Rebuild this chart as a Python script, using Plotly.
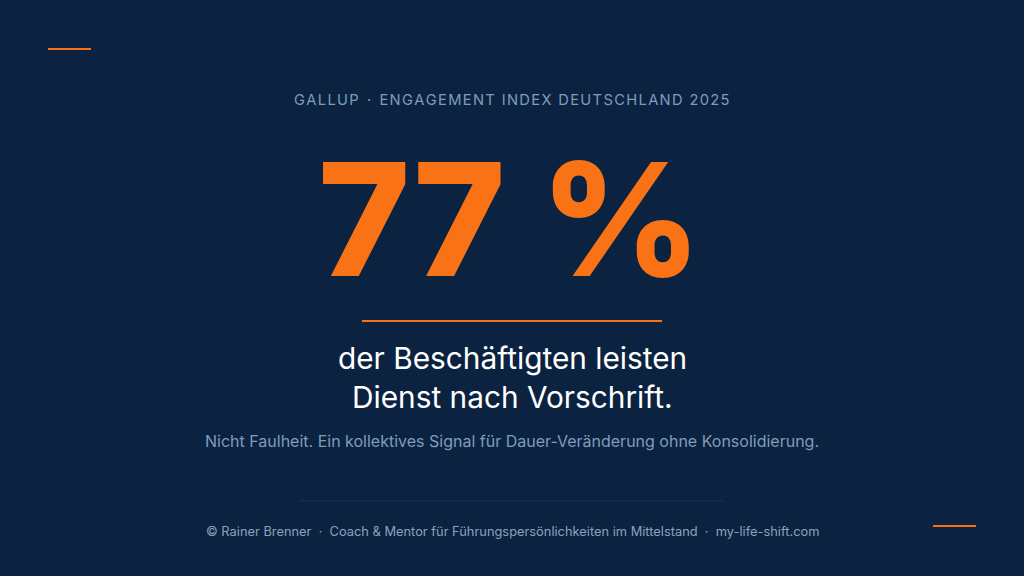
import plotly.graph_objects as go

# ---- content ----
source_parts = ["GALLUP", "ENGAGEMENT INDEX DEUTSCHLAND 2025"]
share_value = 77
share_unit = "%"
headline_lines = ["der Beschäftigten leisten", "Dienst nach Vorschrift."]
subline = "Nicht Faulheit. Ein kollektives Signal für Dauer-Veränderung ohne Konsolidierung."
footer_parts = ["© Rainer Brenner", "Coach & Mentor für Führungspersönlichkeiten im Mittelstand", "my-life-shift.com"]

BG = "#0b2340"
ORANGE = "#f97316"
MUTED = "#7f9cbf"
FONT = "Inter"

W, H = 1024, 576
fig = go.Figure()

fig.update_layout(
    width=W, height=H,
    margin=dict(l=0, r=0, t=0, b=0),
    paper_bgcolor=BG, plot_bgcolor=BG,
    showlegend=False,
    xaxis=dict(range=[0, W], visible=False, fixedrange=True),
    yaxis=dict(range=[H, 0], visible=False, fixedrange=True),
)

def txt(x, y, text, size, color, weight=400):
    fig.add_annotation(x=x, y=y, xref="x", yref="y", text=text, showarrow=False,
                       xanchor="center", yanchor="middle",
                       font=dict(family=FONT, size=size, color=color, weight=weight))

def spaced(s):
    return "\u200a".join(s)

header = "  ·  ".join(spaced(p) for p in source_parts)
txt(512, 100, header, 14.7, MUTED)
txt(510, 219, f"{share_value} {share_unit}", 157, ORANGE, 800)
txt(512, 358, headline_lines[0], 29.8, "#ffffff")
txt(512, 397, headline_lines[1], 29.8, "#ffffff")
txt(512, 441, subline, 16, MUTED)
txt(512, 531, "  ·  ".join(footer_parts), 12.85, "#8ba2bf")

# decorative lines
fig.add_shape(type="line", x0=48, x1=91, y0=49, y1=49, line=dict(color=ORANGE, width=2))
fig.add_shape(type="line", x0=933, x1=976, y0=526, y1=526, line=dict(color=ORANGE, width=2))
fig.add_shape(type="line", x0=362, x1=662, y0=321, y1=321, line=dict(color=ORANGE, width=2))
fig.add_shape(type="line", x0=300, x1=723, y0=501, y1=501, line=dict(color="#1c3554", width=1))

fig.write_html("out.html", config={"displayModeBar": False},
               post_script="document.body.style.margin='0';document.body.style.background='#0b2340';")
